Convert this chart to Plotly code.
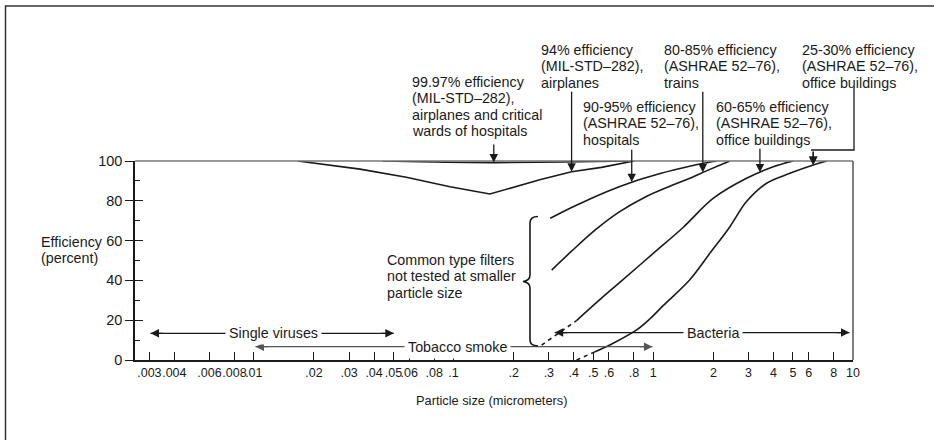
import numpy as np
import plotly.graph_objects as go

FONT = "Liberation Sans, Arial, sans-serif"
INK = "#1a1a1a"

# ---------------- data ----------------
x_ticks = [0.003, 0.004, 0.006, 0.008, 0.01, 0.02, 0.03, 0.04, 0.05, 0.06, 0.08, 0.1,
           0.2, 0.3, 0.4, 0.5, 0.6, 0.8, 1, 2, 3, 4, 5, 6, 8, 10]
x_tick_labels = [".003", ".004", ".006", ".008", ".01", ".02", ".03", ".04", ".05", ".06",
                 ".08", ".1", ".2", ".3", ".4", ".5", ".6", ".8", "1", "2", "3", "4", "5",
                 "6", "8", "10"]
y_ticks = [0, 20, 40, 60, 80, 100]
y_minor_ticks = [10, 30, 50, 70, 90]

size_9997 = [0.044, 0.08, 0.16, 0.35, 0.76]
eff_9997 = [100, 99.5, 99.2, 99.5, 100]

size_94 = [0.0166, 0.023, 0.034, 0.058, 0.096, 0.152, 0.27, 0.39, 0.55, 0.80]
eff_94 = [100, 98, 95.9, 91.8, 87.1, 83.4, 90.6, 94.6, 96.8, 100]

size_9095 = [0.305, 0.397, 0.584, 0.793, 1.04, 1.36, 1.71, 2.08]
eff_9095 = [71.2, 77.0, 84.6, 89.6, 93.2, 96.2, 98.5, 100]

size_8085 = [0.31, 0.391, 0.516, 0.673, 0.908, 1.211, 1.525, 1.92, 2.42]
eff_8085 = [45.2, 54.8, 65.6, 74.3, 81.8, 87.3, 91.3, 95.8, 100]

size_6065_dash = [0.276, 0.413]
eff_6065_dash = [7.5, 19.8]
size_6065 = [0.413, 0.561, 0.68, 1.0, 1.41, 2.0, 2.93, 3.99, 5.02]
eff_6065 = [19.8, 31.8, 39.0, 53.6, 66.6, 81.3, 91.3, 97.1, 100]

size_2530_dash = [0.413, 0.50]
eff_2530_dash = [0, 3.7]
size_2530 = [0.50, 0.63, 0.825, 0.96, 1.12, 1.52, 1.92, 2.42, 2.93, 3.69, 4.83, 6.32, 7.38]
eff_2530 = [3.7, 8.4, 15.1, 20.6, 27.3, 40.2, 53.6, 67.0, 79.6, 88.8, 93.8, 98.0, 100]

# label arrows: tip on curve (size, efficiency), tail height in efficiency units
arrow_size = [0.159, 0.39, 0.78, 1.77, 3.42, 6.32]
arrow_eff = [99.3, 94.6, 89.4, 94.2, 94.3, 98.0]
arrow_tail_eff = [109, 135.5, 106.4, 135.5, 106.9, 105.4]

label_texts = [
    ["99.97% efficiency", "(MIL-STD\u2013282),", "airplanes and critical", "wards of hospitals"],
    ["94% efficiency", "(MIL-STD\u2013282),", "airplanes"],
    ["90-95% efficiency", "(ASHRAE 52\u201376),", "hospitals"],
    ["80-85% efficiency", "(ASHRAE 52\u201376),", "trains"],
    ["60-65% efficiency", "(ASHRAE 52\u201376),", "office buildings"],
    ["25-30% efficiency", "(ASHRAE 52\u201376),", "office buildings"],
]

range_names = ["Single viruses", "Tobacco smoke", "Bacteria"]
range_lo = [0.00304, 0.0102, 0.321]
range_hi = [0.0502, 0.99, 9.6]
range_eff = [13.4, 6.7, 13.8]

# ---------------- layout geometry (pixels) ----------------
W, H = 934, 440
L_PX, R_PX, T_PX, B_PX = 135, 853, 161, 360
XMIN, XMAX = -2.595, 1.0


def px(x):
    return (x - L_PX) / (R_PX - L_PX)


def py(y):
    return (B_PX - y) / (B_PX - T_PX)


label_left_px = [410, 539, 581, 662, 714, 800]
label_top_py = [82, 50, 107, 50, 107, 50]
LINE_H = 16.3
range_text_px = [273.5, 457, 713]
range_colors = [INK, "#555555", INK]
TXT = 14.3

fig = go.Figure()


def curve(xs, ys, dash=None, shape="spline", yaxis="y"):
    fig.add_trace(go.Scatter(
        x=xs, y=ys, mode="lines", yaxis=yaxis,
        line=dict(color=INK, width=1.6, dash=dash, shape=shape, smoothing=1.0),
        cliponaxis=False, hoverinfo="skip", showlegend=False))


curve(size_9997, eff_9997, yaxis="y2")
curve(size_94, eff_94, shape="linear")
curve(size_9095, eff_9095)
curve(size_8085, eff_8085)
curve(size_6065_dash, eff_6065_dash, dash="4px,4px", shape="linear")
curve(size_6065, eff_6065)
curve(size_2530_dash, eff_2530_dash, dash="4px,4px", shape="linear")
curve(size_2530, eff_2530)

# range lines
for lo, hi, e, c in zip(range_lo, range_hi, range_eff, range_colors):
    fig.add_trace(go.Scatter(x=[lo, hi], y=[e, e], mode="lines",
                             line=dict(color=c, width=1.3),
                             hoverinfo="skip", showlegend=False))

annotations = []

# label texts
for lines, lx, ty in zip(label_texts, label_left_px, label_top_py):
    for i, t in enumerate(lines):
        annotations.append(dict(
            text=t, xref="paper", yref="paper", x=px(lx), y=py(ty + i * LINE_H),
            xanchor="left", yanchor="middle", showarrow=False,
            font=dict(family=FONT, size=TXT, color=INK)))

# label arrows
for s, e, te in zip(arrow_size, arrow_eff, arrow_tail_eff):
    annotations.append(dict(
        text="", x=np.log10(s), y=e, xref="x", yref="y",
        ax=np.log10(s), ay=te, axref="x", ayref="y",
        showarrow=True, arrowhead=2, arrowsize=1.3, arrowwidth=1.3, arrowcolor=INK))

# range arrowheads
for lo, hi, e, c in zip(range_lo, range_hi, range_eff, range_colors):
    annotations.append(dict(text="", x=np.log10(lo), y=e, xref="x", yref="y",
                            ax=14, ay=0, showarrow=True, arrowhead=2, arrowsize=1.3,
                            arrowwidth=1.3, arrowcolor=c))
    annotations.append(dict(text="", x=np.log10(hi), y=e, xref="x", yref="y",
                            ax=-14, ay=0, showarrow=True, arrowhead=2, arrowsize=1.3,
                            arrowwidth=1.3, arrowcolor=c))

# range texts
for name, cx, e in zip(range_names, range_text_px, range_eff):
    annotations.append(dict(text=name, xref="paper", yref="y", x=px(cx), y=e,
                            xanchor="center", yanchor="middle", showarrow=False,
                            bgcolor="white", borderpad=3,
                            font=dict(family=FONT, size=TXT, color=INK)))

# brace text
for i, t in enumerate(["Common type filters", "not tested at smaller", "particle size"]):
    annotations.append(dict(text=t, xref="paper", yref="paper", x=px(385),
                            y=py(260 + i * LINE_H), xanchor="left", yanchor="middle",
                            showarrow=False, font=dict(family=FONT, size=TXT, color=INK)))

# axis titles
annotations.append(dict(text="Particle size (micrometers)", xref="paper", yref="paper",
                        x=px(491), y=py(400), xanchor="center", yanchor="middle",
                        showarrow=False, font=dict(family=FONT, size=12.8, color=INK)))
for i, t in enumerate(["Efficiency", "(percent)"]):
    annotations.append(dict(text=t, xref="paper", yref="paper", x=px(39),
                            y=py(242 + i * 16), xanchor="left", yanchor="middle",
                            showarrow=False, font=dict(family=FONT, size=TXT, color=INK)))

# 25-30% bent leader ending in arrow
annotations.append(dict(text="", x=np.log10(arrow_size[5]), y=arrow_eff[5], xref="x", yref="y",
                        ax=0, ay=-15, showarrow=True, arrowhead=2, arrowsize=1.3,
                        arrowwidth=1.3, arrowcolor=INK))


def bp(a, b):
    return f"{px(a):.5f},{py(b):.5f}"


shapes = []
# bent leader for 25-30%
shapes.append(dict(type="path", xref="paper", yref="paper",
                   path=f"M {bp(854, 88)} L {bp(854, 150)} L {bp(811, 150)}",
                   line=dict(color=INK, width=1.3)))
# curly brace
brace = (f"M {bp(538, 216.5)} Q {bp(530, 216.5)} {bp(530, 223)} L {bp(530, 275)} "
         f"Q {bp(530, 280.5)} {bp(523, 281.5)} Q {bp(530, 282.5)} {bp(530, 288)} "
         f"L {bp(530, 340)} Q {bp(530, 346)} {bp(538, 346)}")
shapes.append(dict(type="path", xref="paper", yref="paper", path=brace,
                   line=dict(color=INK, width=1.6)))
# top and right frame of the plot
shapes.append(dict(type="line", xref="paper", yref="paper", x0=0, x1=1, y0=1, y1=1,
                   line=dict(color="#777777", width=1.5)))
shapes.append(dict(type="line", xref="paper", yref="paper", x0=1, x1=1, y0=0, y1=1,
                   line=dict(color="#555555", width=1.5)))
# outer figure frame
shapes.append(dict(type="rect", xref="paper", yref="paper",
                   x0=px(5.5), y0=py(6), x1=px(960), y1=py(470),
                   line=dict(color="#333333", width=1.5)))

fig.update_layout(
    width=W, height=H,
    margin=dict(l=L_PX, r=W - R_PX, t=T_PX, b=H - B_PX, pad=0),
    paper_bgcolor="white", plot_bgcolor="white",
    showlegend=False,
    xaxis=dict(type="log", range=[XMIN, XMAX], tickmode="array", tickvals=x_ticks,
               ticktext=x_tick_labels, ticks="inside", ticklen=8, tickwidth=1.2,
               tickcolor=INK, showline=True, linecolor=INK, linewidth=1.5,
               showgrid=False, zeroline=False, tickangle=0,
               tickfont=dict(family=FONT, size=12.5, color=INK)),
    yaxis=dict(range=[0, 100], tickmode="array", tickvals=y_ticks, ticks="outside",
               ticklen=8, tickwidth=1.2, tickcolor=INK, showline=True, linecolor=INK,
               linewidth=1.5, showgrid=False, zeroline=False,
               tickfont=dict(family=FONT, size=14.5, color=INK)),
    yaxis2=dict(range=[0, 100], overlaying="y", side="left", anchor="x",
                tickmode="array", tickvals=y_ticks, ticks="inside", ticklen=8,
                tickwidth=1.2, tickcolor=INK, showticklabels=False, showline=False,
                showgrid=False, zeroline=False,
                minor=dict(tickmode="array", tickvals=y_minor_ticks, ticks="inside",
                           ticklen=5, tickwidth=1.2, tickcolor=INK, showgrid=False)),
    annotations=annotations,
    shapes=shapes,
)

fig.write_html("out.html", config={"displayModeBar": False},
               post_script="document.body.style.margin='0';document.body.style.overflow='hidden';")
